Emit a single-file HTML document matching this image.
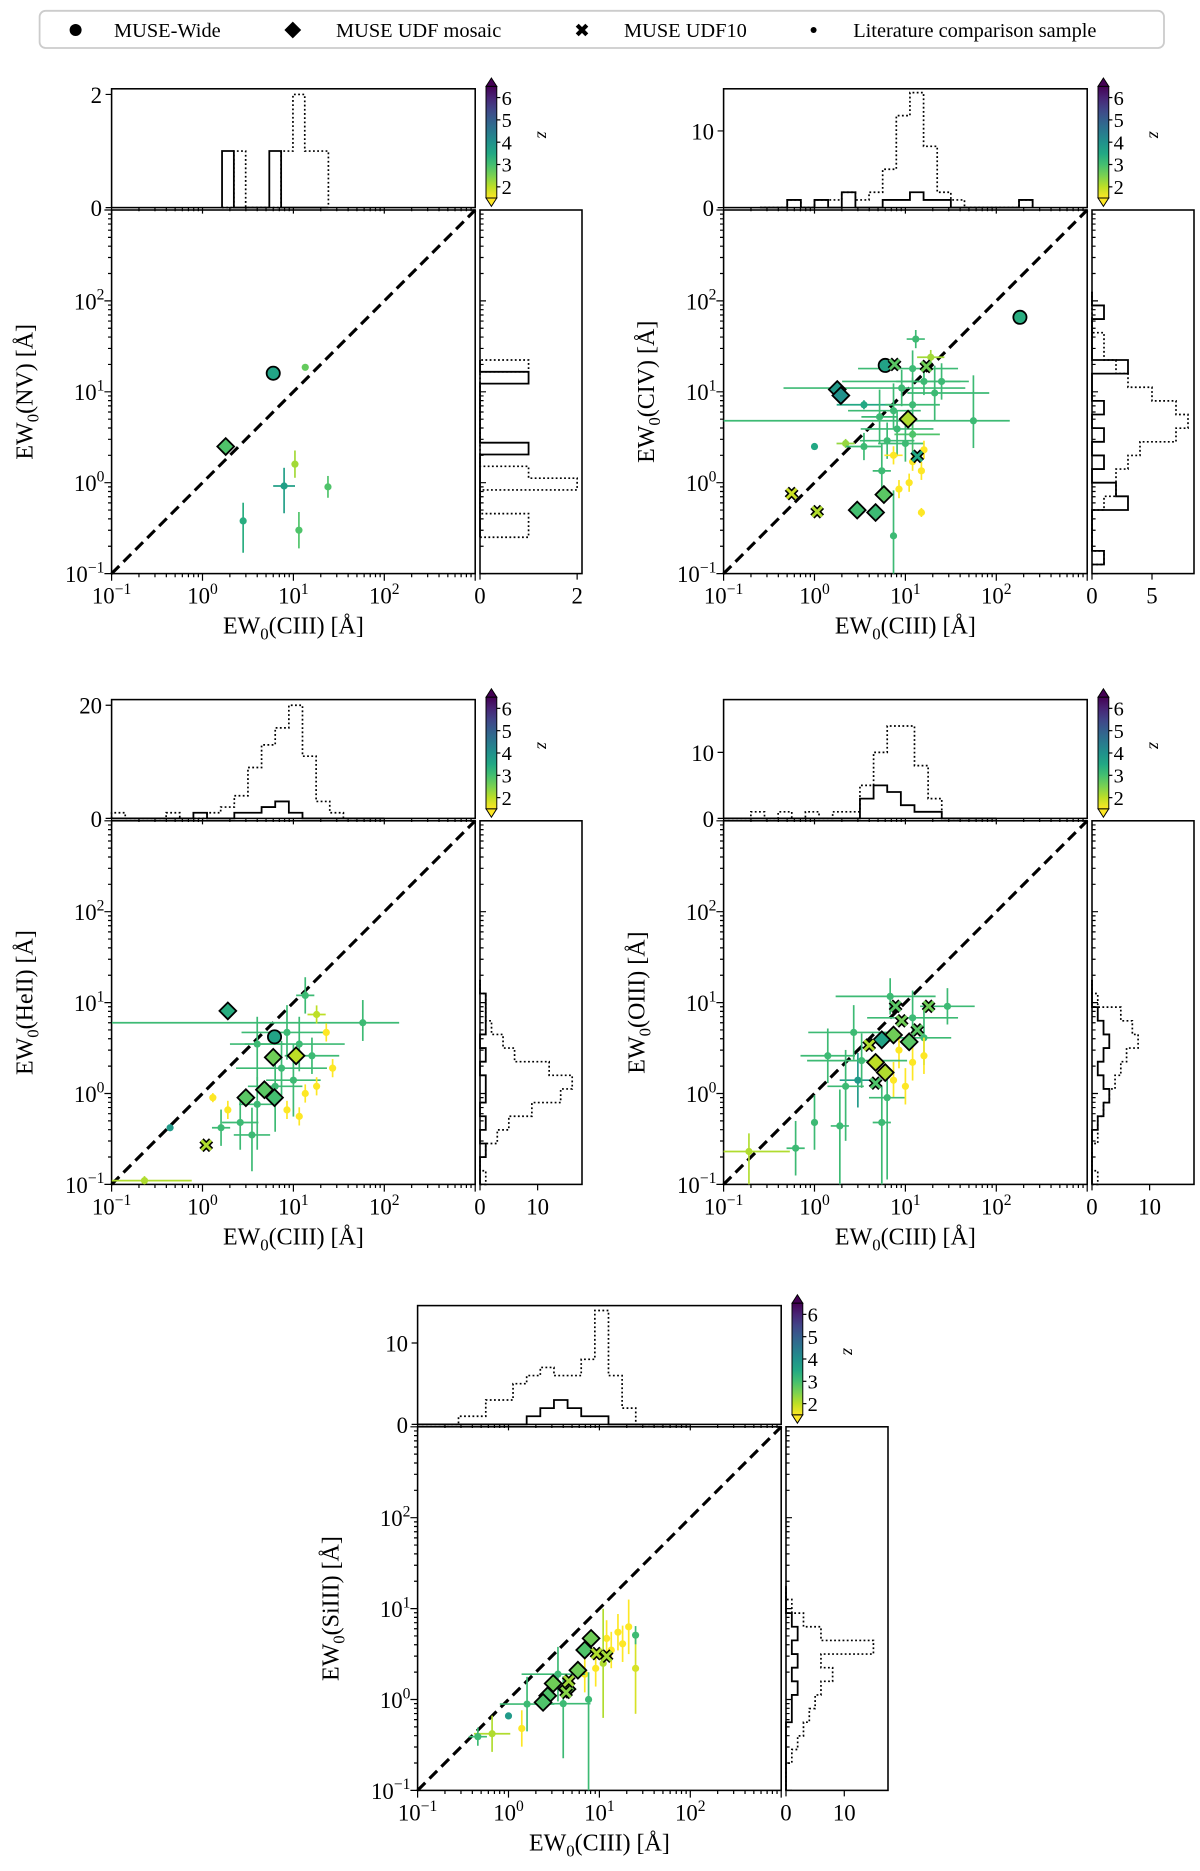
<!DOCTYPE html>
<html><head><meta charset="utf-8"><title>EW comparison</title>
<style>
html,body{margin:0;padding:0;background:#fff;}
svg{display:block;font-family:"Liberation Serif",serif;}
</style></head>
<body>
<svg id="fig" xmlns="http://www.w3.org/2000/svg" width="1200" height="1871" viewBox="0 0 1000 1559.17">
<defs>
<linearGradient id="vir" x1="0" y1="0" x2="0" y2="1">
<stop offset="0" stop-color="#440154"/><stop offset="0.1" stop-color="#482475"/><stop offset="0.2" stop-color="#414487"/><stop offset="0.3" stop-color="#355f8d"/><stop offset="0.4" stop-color="#2a788e"/><stop offset="0.5" stop-color="#21918c"/><stop offset="0.6" stop-color="#22a884"/><stop offset="0.7" stop-color="#44bf70"/><stop offset="0.8" stop-color="#7ad151"/><stop offset="0.9" stop-color="#bddf26"/><stop offset="1" stop-color="#fde725"/>
</linearGradient>
</defs>
<g>
<rect x="33" y="9" width="937" height="31" rx="5" fill="#fff" stroke="#ccc" stroke-width="1.5"/>
<circle cx="63" cy="25" r="5" fill="#000"/>
<text x="95" y="31" font-size="17">MUSE-Wide</text>
<path d="M244 18 L251 25 L244 32 L237 25 Z" fill="#000"/>
<text x="280" y="31" font-size="17">MUSE UDF mosaic</text>
<path d="M481 21 L489 29 M489 21 L481 29" stroke="#000" stroke-width="3.5"/>
<text x="520" y="31" font-size="17">MUSE UDF10</text>
<circle cx="678" cy="25" r="2.5" fill="#000"/>
<text x="711" y="31" font-size="17">Literature comparison sample</text>
</g>
</svg>
<script>
// ---------- Panel 1: NV ----------
const p1_ciii = [1.8, 6.0, 13.5, 2.8, 10.4, 7.9, 24, 11.5];
const p1_line = [2.5, 16, 18.6, 0.38, 1.6, 0.92, 0.9, 0.3];
const p1_z    = [3.3, 4.0, 3.1, 3.8, 2.6, 4.1, 3.3, 3.3];
const p1_type = ['M','W','L','L','L','L','L','L'];
const p1_exl  = [0,0,0,0,0,0.12,0,0];
const p1_exh  = [0,0,0,0,0,0.12,0,0];
const p1_eyl  = [0,0,0,0.35,0.15,0.3,0.12,0.2];
const p1_eyh  = [0,0,0,0.2,0.15,0.2,0.12,0.2];
const p1_topSolid = [1,0,0,0,1,0,0,0,0];
const p1_topLit   = [0,1,0,0,0,1,2,1,1];
const p1_rightSolid = [0,0,0,0,0,0,0,1,0,0,0,0,0,1,0];
const p1_rightLit   = [1,1,0,0,2,1,0,0,0,0,0,0,0,0,1];

// ---------- Panel 2: CIV ----------
const p2_ciii = [6.0,182, 1.78,1.95,10.7,2.95,4.7,5.8, 7.6,17,13.5,0.56,1.07,
 13,19,12,16,9.1,21,3.5,7.4,12,5.2,8.1,12,6.3,10,2.2,1.0,16,12,15,11,7.4,5.5,8.5,15,7.4,3.5,25,56];
const p2_line = [19.5,66, 10.6,9.1,5.0,0.50,0.47,0.74, 20,19,1.95,0.76,0.48,
 38,24,18,13,11,9.7,7.2,6.2,7.2,5.3,3.9,3.4,2.9,2.7,2.7,2.5,2.3,1.7,1.35,1.0,2.0,1.35,0.85,0.47,0.26,2.5,13,4.8];
const p2_z    = [4.0,3.8, 4.2,4.4,2.5,3.4,3.5,3.2, 3.2,3.0,3.9,2.3,2.5,
 3.5,2.6,3.5,3.5,3.5,3.5,3.9,3.5,3.5,3.5,3.5,3.3,3.5,3.5,2.7,3.9,1.6,1.6,1.6,1.6,1.6,3.5,1.6,1.6,3.5,3.5,3.5,3.5];
const p2_type = ['W','W','M','M','M','M','M','M','X','X','X','X','X',
 'L','L','L','L','L','L','L','L','L','L','L','L','L','L','L','L','L','L','L','L','L','L','L','L','L','L','L','L'];
const p2_exl = [0,0,0,0,0,0,0,0,0,0,0,0,0, .1,.15,.6,.9,1.3,.3,.3,.5,.3,.2,.4,.2,.3,.3,.1,0,0,0,0,0,.1,.1,0,0,0,.2,.5,2.75];
const p2_exh = [0,0,0,0,0,0,0,0,0,0,0,0,0, .1,.15,.5,.4,.7,.6,.3,.3,.3,.2,.4,.3,.3,.2,.1,0,0,0,0,0,.1,.1,0,0,0,.2,.3,.4];
const p2_eyl = [0,0,0,0,0,0,0,0,0,0,0,0,0, .1,.08,.2,.15,.2,.3,.05,.2,.3,.3,.3,.2,.2,.2,.05,0,.1,.1,.1,.1,.1,.3,.1,.05,1.2,.15,.2,.3];
const p2_eyh = [0,0,0,0,0,0,0,0,0,0,0,0,0, .1,.08,.2,.15,.2,.3,.05,.3,.3,.3,.2,.2,.2,.2,.05,0,.1,.1,.1,.1,.1,.3,.1,.05,.5,.15,.2,.5];
const p2_topSolid = [0,0,1,0,1,0,2,0,0,1,1,2,1,1,0,0,0,0,0,1];
const p2_topLit   = [0,0,1,0,1,1,2,1,2,5,12,15,8,2,1,0,0,0,0,1];
const p2_rightSolid = [1,0,0,0,3,2,0,1,0,1,0,1,0,0,3,0,0,0,1,0];
const p2_rightLit   = [1,0,0,0,1,2,2,3,4,7,8,7,5,3,2,1,1,0,0,0];

// ---------- Panel 3: HeII ----------
const p3_ciii = [6.2, 1.9,6,10.7,4.8,6.2,3, 1.1,
 58,13.5,18,8.5,11.6,4,16,7.4,10,13.5,18,6.3,4,11.6,8.5,1.9,1.3,1.6,2.6,0.44,3.5,23,0.23,27];
const p3_line = [4.2, 8.1,2.5,2.6,1.1,0.9,0.9, 0.27,
 6,12,7.4,4.7,3.5,3.5,2.6,1.9,1.4,1.0,1.2,1.2,0.76,0.56,0.66,0.66,0.9,0.42,0.48,0.42,0.35,4.7,0.11,1.9];
const p3_z = [4.0, 3.8,3.0,2.4,3.2,3.4,3.2, 2.5,
 3.5,3.5,2.4,3.5,3.5,3.5,3.5,3.5,3.5,1.6,1.6,3.5,3.5,1.6,1.6,1.6,1.6,3.5,3.5,4.2,3.5,1.6,2.5,1.6];
const p3_type = ['W','M','M','M','M','M','M','X',
 'L','L','L','L','L','L','L','L','L','L','L','L','L','L','L','L','L','L','L','L','L','L','L','L'];
const p3_exl = [0,0,0,0,0,0,0,0, 2.76,.1,.1,.5,.6,.3,.3,.5,.3,0,0,.3,.2,0,0,0,0,.1,.2,0,.2,0,.36,0];
const p3_exh = [0,0,0,0,0,0,0,0, .4,.1,.1,.4,.5,.3,.3,.5,.3,0,0,.3,.2,0,0,0,0,.1,.2,0,.2,0,.52,0];
const p3_eyl = [0,0,0,0,0,0,0,0, .2,.2,.1,.3,.3,.4,.2,.3,.4,.1,.1,.5,.5,.1,.1,.1,.05,.2,.3,0,.4,.1,.05,.1];
const p3_eyh = [0,0,0,0,0,0,0,0, .25,.2,.1,.3,.3,.3,.2,.3,.4,.1,.1,.4,.3,.1,.1,.1,.05,.2,.3,0,.3,.1,.05,.1];
const p3_topSolid = [0,0,0,0,0,0,1,0,0,1,1,2,3,1,0,0,0,0,0,0];
const p3_topLit   = [1,0,0,0,1,0,0,1,2,4,9,13,16,20,11,3,1,0,0,0];
const p3_rightSolid = [0,0,1,0,1,0,1,1,0,1,0,1,1,1,0];
const p3_rightLit   = [1,0,1,3,5,9,14,16,12,6,4,2,1,1,0];

// ---------- Panel 4: OIII ----------
const p4_ciii = [7.4,4.7,6,5.5,11, 7.8,18,9.1,13.5,4,4.7,
 29,6.8,12,16,2.7,1.4,3,2.2,1.9,1.0,0.62,0.19,8.5,12,7.4,16,6.3,10,5.5,3.3];
const p4_line = [4.4,2.2,1.7,3.9,3.7, 9.1,9.1,6.3,5,3.4,1.3,
 9.1,11.7,6.8,4.1,4.7,2.6,1.4,1.2,0.44,0.48,0.25,0.23,3.0,2.2,1.4,2.6,0.9,1.2,0.48,2.3];
const p4_z = [3.0,2.4,2.5,4.0,3.2, 3.2,3.0,3.0,3.2,2.5,3.3,
 3.5,3.5,3.5,3.5,3.5,3.5,4.2,3.5,3.5,3.5,3.5,2.5,1.6,1.6,1.6,1.6,3.5,1.6,3.5,3.5];
const p4_type = ['M','M','M','M','M','X','X','X','X','X','X',
 'L','L','L','L','L','L','L','L','L','L','L','L','L','L','L','L','L','L','L','L'];
const p4_exl = [0,0,0,0,0,0,0,0,0,0,0, .3,.6,.5,.3,.5,.3,.2,.2,.1,0,.1,.29,0,0,0,0,.2,0,.1,.6];
const p4_exh = [0,0,0,0,0,0,0,0,0,0,0, .3,.5,.5,.3,.4,.3,.2,.2,.1,0,.1,.45,0,0,0,0,.2,0,.1,.5];
const p4_eyl = [0,0,0,0,0,0,0,0,0,0,0, .2,.2,.3,.3,.3,.3,.3,.6,.8,.3,.3,.4,.2,.2,.2,.2,.9,.2,1.0,.3];
const p4_eyh = [0,0,0,0,0,0,0,0,0,0,0, .2,.2,.3,.3,.3,.3,.3,.4,.4,.3,.3,.2,.2,.2,.2,.2,.3,.2,.4,.3];
const p4_topSolid = [0,0,0,0,0,0,0,0,0,0,3,5,4,2,1,1,0,0,0,0];
const p4_topLit   = [0,0,1,0,1,0,1,0,1,1,5,10,14,14,8,3,0,0,0,0];
const p4_rightSolid = [0,0,0,0,1,2,3,2,1,2,3,2,1,0,0];
const p4_rightLit   = [1,0,0,1,1,2,3,4,5,6,8,7,5,1,0];

// ---------- Panel 5: SiIII ----------
const p5_ciii = [8.1,6.9,5.8,2.7,3.1,2.4,4.4, 9.3,12,4.6,4.3,
 12,16,21,13.5,18,25,9.1,6.9,25,1.6,1.0,1.4,0.66,0.46,3.5,4,7.6,11];
const p5_line = [4.7,3.5,2.1,1.1,1.5,0.93,1.3, 3.2,3.0,1.6,1.2,
 4.7,5.5,6.3,3.5,4.1,2.2,2.2,1.9,5.1,0.89,0.66,0.48,0.42,0.39,1.9,0.9,1.0,2.5];
const p5_z = [3.0,3.3,3.0,3.3,3.0,3.3,3.0, 2.5,2.6,2.6,2.8,
 1.6,1.6,1.6,1.6,1.6,2.2,1.6,1.6,3.5,3.5,4.2,1.6,2.5,3.5,3.5,3.5,3.5,2.5];
const p5_type = ['M','M','M','M','M','M','M','X','X','X','X',
 'L','L','L','L','L','L','L','L','L','L','L','L','L','L','L','L','L','L'];
const p5_exl = [0,0,0,0,0,0,0,0,0,0,0, 0,0,0,0,0,0,0,0,0,.3,0,0,.2,.1,.4,.3,0,0];
const p5_exh = [0,0,0,0,0,0,0,0,0,0,0, 0,0,0,0,0,0,0,0,0,.3,0,0,.2,.1,.3,.3,0,0];
const p5_eyl = [0,0,0,0,0,0,0,0,0,0,0, .2,.2,.3,.2,.2,.5,.2,.2,.1,.3,0,.2,.2,.1,.3,.6,2.0,.6];
const p5_eyh = [0,0,0,0,0,0,0,0,0,0,0, .2,.2,.3,.2,.2,.4,.2,.2,.1,.3,0,.2,.2,.1,.3,.3,.3,.6];
const p5_topSolid = [0,0,0,0,0,0,0,0,1,2,3,2,1,1,0,0,0,0,0,0];
const p5_topLit   = [0,0,0,1,1,3,3,5,6,7,6,6,8,14,6,2,0,0,0,0];
const p5_rightSolid = [0,0,0,0,0,1,1,2,1,2,1,2,1,0,0];
const p5_rightLit   = [0,0,1,2,3,4,5,6,8,6,15,6,3,1,0];

const colorbarTicks = [2,3,4,5,6];
const decadeTicks = [-1,0,1,2];

const NS='http://www.w3.org/2000/svg';
const svg=document.getElementById('fig');
function mk(tag, attrs, parent){const e=document.createElementNS(NS,tag);for(const k in attrs)e.setAttribute(k,attrs[k]);(parent||svg).appendChild(e);return e;}

const VIR=['#440154','#482475','#414487','#355f8d','#2a788e','#21918c','#22a884','#44bf70','#7ad151','#bddf26','#fde725'];
function hex2rgb(h){return [parseInt(h.substr(1,2),16),parseInt(h.substr(3,2),16),parseInt(h.substr(5,2),16)];}
function zcolor(z){let t=(z-1.9)/5;t=Math.max(0,Math.min(1,t));let u=(1-t)*10;let i=Math.min(9,Math.floor(u));let f=u-i;const a=hex2rgb(VIR[i]),b=hex2rgb(VIR[i+1]);return 'rgb('+a.map((v,k)=>Math.round(v+(b[k]-v)*f)).join(',')+')';}

const panels=[
 {id:'nv',x0:93,y0:175,lab:'NV',ylabOff:-66,ciii:p1_ciii,line:p1_line,z:p1_z,type:p1_type,exl:p1_exl,exh:p1_exh,eyl:p1_eyl,eyh:p1_eyh,
  tS:p1_topSolid,tL:p1_topLit,tStart:0.215,tStep:0.13,tMax:2.1,tTick:[0,2],
  rS:p1_rightSolid,rL:p1_rightLit,rStart:-0.6,rStep:0.13,rMax:2.1,rTick:[0,2]},
 {id:'civ',x0:603,y0:175,lab:'CIV',ylabOff:-58,ciii:p2_ciii,line:p2_line,z:p2_z,type:p2_type,exl:p2_exl,exh:p2_exh,eyl:p2_eyl,eyh:p2_eyh,
  tS:p2_topSolid,tL:p2_topLit,tStart:-0.6,tStep:0.15,tMax:15.5,tTick:[0,10],
  rS:p2_rightSolid,rL:p2_rightLit,rStart:-0.9,rStep:0.15,rMax:8.5,rTick:[0,5]},
 {id:'heii',x0:93,y0:684,lab:'HeII',ylabOff:-66,ciii:p3_ciii,line:p3_line,z:p3_z,type:p3_type,exl:p3_exl,exh:p3_exh,eyl:p3_eyl,eyh:p3_eyh,
  tS:p3_topSolid,tL:p3_topLit,tStart:-1,tStep:0.15,tMax:21,tTick:[0,20],
  rS:p3_rightSolid,rL:p3_rightLit,rStart:-1,rStep:0.15,rMax:17.7,rTick:[0,10]},
 {id:'oiii',x0:603,y0:684,lab:'OIII',ylabOff:-66,ciii:p4_ciii,line:p4_line,z:p4_z,type:p4_type,exl:p4_exl,exh:p4_exh,eyl:p4_eyl,eyh:p4_eyh,
  tS:p4_topSolid,tL:p4_topLit,tStart:-1,tStep:0.15,tMax:18,tTick:[0,10],
  rS:p4_rightSolid,rL:p4_rightLit,rStart:-1,rStep:0.15,rMax:17.7,rTick:[0,10]},
 {id:'siiii',x0:348,y0:1189,lab:'SiIII',ylabOff:-66,ciii:p5_ciii,line:p5_line,z:p5_z,type:p5_type,exl:p5_exl,exh:p5_exh,eyl:p5_eyl,eyh:p5_eyh,
  tS:p5_topSolid,tL:p5_topLit,tStart:-1,tStep:0.15,tMax:14.6,tTick:[0,10],
  rS:p5_rightSolid,rL:p5_rightLit,rStart:-1,rStep:0.15,rMax:17.5,rTick:[0,10]}
];

const S=303, DEC=S/4;
function pow10Label(parent,x,y,n,anchor){
  const t=mk('text',{x:x,y:y,'font-size':19,'text-anchor':anchor},parent);
  
  
  t.appendChild(document.createTextNode('10'));
  const s=mk('tspan',{dy:-8,'font-size':13},t);
  s.textContent=(n<0?'\u2212':'')+Math.abs(n);
  return t;
}

panels.forEach(p=>{
  const g=mk('g',{});
  
  
  const x0=p.x0,y0=p.y0;
  const X=v=>x0+(Math.log10(v)+1)*DEC;
  const Y=v=>y0+S-(Math.log10(v)+1)*DEC;
  const XL=l=>x0+(l+1)*DEC;
  const YL=l=>y0+S-(l+1)*DEC;

  const fr=mk('rect',{x:x0,y:y0,width:S,height:S,fill:'none',stroke:'#000','stroke-width':1.3},g);
  
  
  let tk='';
  for(let n=-1;n<=2;n++){
    tk+=`M${XL(n)} ${y0+S}v6M${x0} ${YL(n)}h-6`;
    for(let k=2;k<=9;k++){const l=n+Math.log10(k);tk+=`M${XL(l)} ${y0+S}v3M${x0} ${YL(l)}h-3`;}
  }
  tk+=`M${x0+S} ${y0+S}v6M${x0} ${y0}h-6`;
  const tp=mk('path',{d:tk,stroke:'#000','stroke-width':1,fill:'none'},g);
  
  
  decadeTicks.forEach(n=>{
    pow10Label(g,XL(n),y0+S+25,n,'middle');
    pow10Label(g,x0-6,YL(n)+7,n,'end');
  });
  const xl=mk('text',{x:x0+S/2,y:y0+S+50,'font-size':20,'text-anchor':'middle'},g);
  
  
  xl.innerHTML='EW<tspan dy="5" font-size="14">0</tspan><tspan dy="-5">(CIII) [Å]</tspan>';
  const yl=mk('text',{x:0,y:0,'font-size':20,'text-anchor':'middle',transform:`translate(${x0+p.ylabOff},${y0+S/2}) rotate(-90)`},g);
  
  
  yl.innerHTML='EW<tspan dy="5" font-size="14">0</tspan><tspan dy="-5">('+p.lab+') [Å]</tspan>';

  const dl=mk('line',{x1:x0,y1:y0+S,x2:x0+S,y2:y0,stroke:'#000','stroke-width':2.6,'stroke-dasharray':'9,5'},g);
  
  

  const cp=mk('clipPath',{id:'clip-'+p.id},g);
  mk('rect',{x:x0,y:y0,width:S,height:S},cp);
  const sg=mk('g',{'clip-path':`url(#clip-${p.id})`},g);
  
  
  const order=[...p.ciii.keys()].sort((a,b)=>(p.type[a]==='L'?0:1)-(p.type[b]==='L'?0:1));
  order.forEach(i=>{
    const cx=X(p.ciii[i]),cy=Y(p.line[i]),c=zcolor(p.z[i]),lg=Math.log10(p.ciii[i]),ly=Math.log10(p.line[i]);
    if(p.exl[i]||p.exh[i]){
      const e=mk('line',{x1:XL(lg-p.exl[i]),y1:cy,x2:XL(lg+p.exh[i]),y2:cy,stroke:c,'stroke-width':1.4},sg);
      
      
    }
    if(p.eyl[i]||p.eyh[i]){
      const e=mk('line',{x1:cx,y1:YL(ly-p.eyl[i]),x2:cx,y2:YL(ly+p.eyh[i]),stroke:c,'stroke-width':1.4},sg);
      
      
    }
    let m;
    if(p.type[i]==='L'){
      m=mk('circle',{cx:cx,cy:cy,r:3,fill:c},sg);
      
    } else if(p.type[i]==='W'){
      m=mk('circle',{cx:cx,cy:cy,r:5.5,fill:c,stroke:'#000','stroke-width':1.5},sg);
      
    } else if(p.type[i]==='M'){
      m=mk('path',{d:`M${cx} ${cy-7}L${cx+7} ${cy}L${cx} ${cy+7}L${cx-7} ${cy}Z`,fill:c,stroke:'#000','stroke-width':1.5},sg);
      
    } else {
      const s=4;
      m=mk('g',{},sg);
      mk('path',{d:`M${cx-s} ${cy-s}L${cx+s} ${cy+s}M${cx+s} ${cy-s}L${cx-s} ${cy+s}`,stroke:'#000','stroke-width':5},m);
      mk('path',{d:`M${cx-s} ${cy-s}L${cx+s} ${cy+s}M${cx+s} ${cy-s}L${cx-s} ${cy+s}`,stroke:c,'stroke-width':2.4},m);
      
    }
    
  });

  const tb=y0-2, th=99, ty0=tb-th;
  const tf=mk('rect',{x:x0,y:ty0,width:S,height:th,fill:'none',stroke:'#000','stroke-width':1.3},g);
  
  
  const TY=c=>tb-c/p.tMax*th;
  function stepTop(counts){let d=`M${XL(p.tStart)} ${tb}`;counts.forEach((c,i)=>{d+=`L${XL(p.tStart+i*p.tStep)} ${TY(c)}L${XL(p.tStart+(i+1)*p.tStep)} ${TY(c)}`;});d+=`L${XL(p.tStart+counts.length*p.tStep)} ${tb}`;return d;}
  const hl=mk('path',{d:stepTop(p.tL),fill:'none',stroke:'#000','stroke-width':1.4,'stroke-dasharray':'1.5,2'},g);
  
  
  const hs=mk('path',{d:stepTop(p.tS),fill:'none',stroke:'#000','stroke-width':1.5},g);
  
  
  let tt='';
  for(let n=-1;n<=2;n++){for(let k=1;k<=9;k++){const l=n+Math.log10(k);tt+=`M${XL(l)} ${tb}v${k===1?5:3}`;}}
  p.tTick.forEach(v=>{tt+=`M${x0} ${TY(v)}h-5`;});
  const ttp=mk('path',{d:tt,stroke:'#000','stroke-width':1},g);
  
  
  p.tTick.forEach(v=>{
    const t=mk('text',{x:x0-8,y:TY(v)+7,'font-size':19,'text-anchor':'end'},g);
    t.textContent=v;
    
    
  });

  const rx0=x0+S+4, rw=85;
  const rf=mk('rect',{x:rx0,y:y0,width:rw,height:S,fill:'none',stroke:'#000','stroke-width':1.3},g);
  
  
  const RX=c=>rx0+c/p.rMax*rw;
  function stepRight(counts){let d=`M${rx0} ${YL(p.rStart)}`;counts.forEach((c,i)=>{d+=`L${RX(c)} ${YL(p.rStart+i*p.rStep)}L${RX(c)} ${YL(p.rStart+(i+1)*p.rStep)}`;});d+=`L${rx0} ${YL(p.rStart+counts.length*p.rStep)}`;return d;}
  const rl=mk('path',{d:stepRight(p.rL),fill:'none',stroke:'#000','stroke-width':1.4,'stroke-dasharray':'1.5,2'},g);
  
  
  const rs=mk('path',{d:stepRight(p.rS),fill:'none',stroke:'#000','stroke-width':1.5},g);
  
  
  let rt='';
  for(let n=-1;n<=2;n++){for(let k=1;k<=9;k++){const l=n+Math.log10(k);rt+=`M${rx0} ${YL(l)}h${k===1?5:3}`;}}
  p.rTick.forEach(v=>{rt+=`M${RX(v)} ${y0+S}v5`;});
  const rtp=mk('path',{d:rt,stroke:'#000','stroke-width':1},g);
  
  
  p.rTick.forEach(v=>{
    const t=mk('text',{x:RX(v),y:y0+S+25,'font-size':19,'text-anchor':'middle'},g);
    t.textContent=v;
    
    
  });

  const cbx=x0+312, cbw=9, cbt=y0-103, cbb=y0-10;
  const cbg=mk('g',{},g);
  
  
  mk('path',{d:`M${cbx} ${cbt}L${cbx+cbw/2} ${cbt-7}L${cbx+cbw} ${cbt}Z`,fill:'#440154',stroke:'#000','stroke-width':0.8},cbg);
  mk('path',{d:`M${cbx} ${cbb}L${cbx+cbw/2} ${cbb+7}L${cbx+cbw} ${cbb}Z`,fill:'#fde725',stroke:'#000','stroke-width':0.8},cbg);
  mk('rect',{x:cbx,y:cbt,width:cbw,height:cbb-cbt,fill:'url(#vir)',stroke:'#000','stroke-width':0.8},cbg);
  const CZ=z=>cbb-(z-1.5)/5*(cbb-cbt);
  colorbarTicks.forEach(z=>{
    mk('line',{x1:cbx+cbw,y1:CZ(z),x2:cbx+cbw+3,y2:CZ(z),stroke:'#000','stroke-width':1},cbg);
    const t=mk('text',{x:cbx+cbw+4,y:CZ(z)+6,'font-size':17},cbg);
    t.textContent=z;
    
    
  });
  const zl=mk('text',{x:0,y:0,'font-size':15,'font-style':'italic','text-anchor':'middle',transform:`translate(${cbx+cbw+34},${(cbt+cbb)/2-6}) rotate(90)`},cbg);
  zl.textContent='z';
  
  
});
</script>
</body></html>
